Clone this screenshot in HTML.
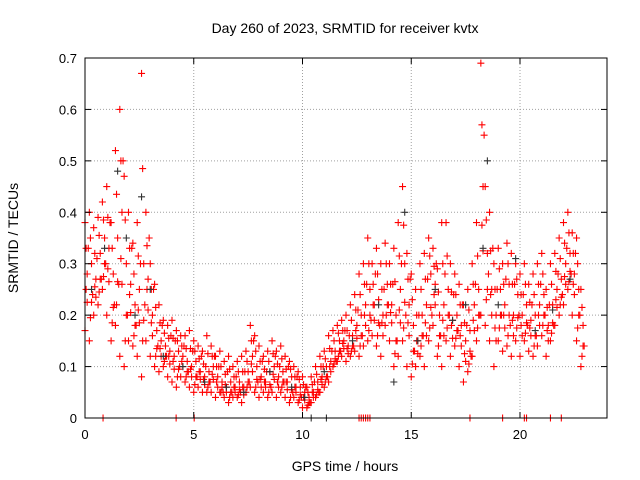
<!DOCTYPE html>
<html><head><meta charset="utf-8"><style>
body{margin:0;background:#fff}
svg{display:block;font-family:"Liberation Sans",sans-serif}
</style></head><body>
<svg id="chart" width="640" height="480">
<text x="345" y="33" font-size="14" text-anchor="middle">Day 260 of 2023, SRMTID for receiver kvtx</text>
<text x="345" y="471" font-size="14" text-anchor="middle">GPS time / hours</text>
<text x="18" y="238" font-size="14" text-anchor="middle" transform="rotate(-90 18 238)">SRMTID / TECUs</text>
<g id="grid"></g><g id="marks"></g><g id="axes"></g>
</svg>
<script>
const times=[0.0,0.2,0.4,0.6,0.8,1.0,1.2,1.4,1.6,1.8,2.0,2.2,2.4,2.6,2.8,3.0,3.2,3.4,3.6,3.8,4.0,4.2,4.4,4.6,4.8,5.0,5.2,5.4,5.6,5.8,6.0,6.2,6.4,6.6,6.8,7.0,7.2,7.4,7.6,7.8,8.0,8.2,8.4,8.6,8.8,9.0,9.2,9.4,9.6,9.8,10.0,10.2,10.4,10.6,10.8,11.0,11.2,11.4,11.6,11.8,12.0,12.2,12.4,12.6,12.8,13.0,13.2,13.4,13.6,13.8,14.0,14.2,14.4,14.6,14.8,15.0,15.2,15.4,15.6,15.8,16.0,16.2,16.4,16.6,16.8,17.0,17.2,17.4,17.6,17.8,18.0,18.2,18.4,18.6,18.8,19.0,19.2,19.4,19.6,19.8,20.0,20.2,20.4,20.6,20.8,21.0,21.2,21.4,21.6,21.8,22.0,22.2,22.4,22.6,22.8];
const lowVals=[.17,.15,.20,.22,.25,.20,.15,.18,.12,.10,.15,.14,.12,.08,.15,.12,.10,.09,.10,.08,.07,.06,.08,.07,.06,.05,.06,.05,.05,.05,.04,.05,.04,.03,.04,.04,.03,.05,.06,.05,.04,.05,.04,.05,.04,.05,.04,.03,.04,.03,.02,.02,.03,.04,.05,.06,.07,.10,.11,.12,.11,.12,.13,.12,.14,.15,.16,.14,.12,.18,.15,.10,.12,.15,.10,.08,.10,.12,.10,.15,.18,.12,.10,.15,.12,.14,.10,.07,.09,.12,.15,.20,.18,.15,.10,.15,.13,.14,.12,.15,.12,.15,.13,.12,.14,.16,.12,.15,.18,.20,.22,.25,.20,.15,.10];
const midVals=[.28,.30,.27,.32,.35,.33,.28,.35,.40,.30,.26,.22,.25,.30,.27,.20,.17,.15,.14,.13,.12,.13,.12,.11,.10,.11,.09,.08,.09,.10,.08,.07,.06,.07,.06,.07,.06,.09,.12,.10,.08,.07,.09,.10,.08,.09,.07,.08,.06,.06,.05,.04,.05,.07,.08,.10,.11,.13,.15,.15,.14,.16,.18,.20,.22,.25,.22,.23,.20,.26,.22,.20,.25,.30,.22,.18,.15,.20,.22,.28,.26,.20,.22,.25,.19,.20,.18,.15,.17,.22,.25,.45,.32,.25,.20,.25,.22,.26,.20,.24,.20,.22,.19,.20,.22,.24,.18,.22,.25,.27,.30,.32,.28,.25,.18];
const highVals=[.38,.40,.37,.39,.42,.45,.38,.52,.60,.47,.40,.34,.38,.67,.40,.30,.26,.22,.19,.18,.19,.17,.16,.16,.17,.15,.14,.13,.16,.14,.12,.13,.11,.12,.10,.11,.12,.13,.18,.16,.14,.12,.13,.15,.13,.14,.12,.11,.10,.09,.08,.06,.08,.10,.12,.13,.16,.17,.18,.19,.20,.22,.24,.28,.30,.35,.30,.33,.30,.34,.30,.33,.38,.45,.32,.28,.25,.30,.32,.35,.33,.29,.38,.38,.30,.28,.26,.22,.25,.30,.38,.69,.45,.40,.30,.33,.30,.34,.32,.30,.28,.30,.26,.28,.30,.32,.25,.30,.32,.35,.38,.40,.36,.35,.25];
const extraVals=[.33,.24,.31,.27,.30,.38,.22,.26,.50,.20,.33,.18,.30,.22,.35,.25,.14,.18,.12,.16,.15,.10,.14,.09,.13,.08,.12,.10,.07,.12,.10,.05,.09,.05,.08,.05,.09,.07,.15,.07,.11,.09,.06,.12,.10,.07,.10,.05,.08,.04,.06,.03,.07,.05,.10,.08,.13,.11,.13,.17,.16,.14,.21,.16,.26,.19,.28,.18,.25,.22,.26,.15,.30,.20,.27,.13,.20,.16,.27,.20,.30,.16,.28,.20,.24,.17,.22,.18,.12,.26,.20,.55,.28,.33,.25,.20,.27,.18,.26,.20,.24,.18,.22,.16,.26,.20,.22,.18,.28,.24,.33,.28,.32,.20,.14];
const blackTimes=[0.3,0.9,1.5,1.9,2.3,2.6,3.0,3.6,4.5,5.5,6.5,7.3,8.5,9.5,10.1,11.0,12.3,13.5,14.2,14.7,15.3,16.1,16.9,17.5,18.3,18.5,19.0,19.8,20.7,21.5,22.3];
const blackVals=[.25,.33,.48,.35,.20,.43,.25,.12,.10,.07,.06,.05,.09,.06,.04,.09,.15,.22,.07,.40,.15,.25,.19,.22,.33,.50,.22,.31,.17,.21,.27];
const zeroRed=[0.83,4.19,5.02,12.6,12.7,12.8,12.9,13.0,13.1,17.7,19.2,20.2,20.3,21.4,21.9];
const zeroBlack=[10.4,11.1];
const xTicks=[0,5,10,15,20];
const yTicks=[0,0.1,0.2,0.3,0.4,0.5,0.6,0.7];
const NS="http://www.w3.org/2000/svg";
const L=85,R=607,T=58,B=418;
function xs(v){return L+v/24*(R-L);}
function ys(v){return B-v/0.7*(B-T);}
function mk(tag,attrs,parent){const e=document.createElementNS(NS,tag);for(const k in attrs)e.setAttribute(k,attrs[k]);parent.appendChild(e);return e;}
const grid=document.getElementById('grid'),axes=document.getElementById('axes'),marks=document.getElementById('marks');
xTicks.forEach(t=>{const x=xs(t);
 if(t>0){const g=mk('line',{x1:x,y1:T,x2:x,y2:B,stroke:'#a0a0a0','stroke-dasharray':'1,2'},grid);
 
 }
 mk('line',{x1:x,y1:B,x2:x,y2:B-6,stroke:'#000'},axes);mk('line',{x1:x,y1:T,x2:x,y2:T+6,stroke:'#000'},axes);
 const tx=mk('text',{x:x,y:B+21,'font-size':13,'text-anchor':'middle'},axes);tx.textContent=t;
 
 });
yTicks.forEach(t=>{const y=ys(t);
 if(t>0&&t<0.7){const g=mk('line',{x1:L,y1:y,x2:R,y2:y,stroke:'#a0a0a0','stroke-dasharray':'1,2'},grid);
 
 }
 mk('line',{x1:L,y1:y,x2:L+6,y2:y,stroke:'#000'},axes);mk('line',{x1:R,y1:y,x2:R-6,y2:y,stroke:'#000'},axes);
 const tx=mk('text',{x:L-8,y:y+5,'font-size':13,'text-anchor':'end'},axes);tx.textContent=t===0?'0':t.toFixed(1);
 
 });
const frame=mk('rect',{x:L,y:T,width:R-L,height:B-T,fill:'none',stroke:'#000'},axes);


function plus(t,v,color,name){const x=xs(t),y=ys(v);
 const p=mk('path',{d:`M${x-3.5},${y}h7M${x},${y-3.5}v7`,stroke:color,'stroke-width':1.1,fill:'none'},marks);
 
 }
times.forEach((t,i)=>{plus(t,lowVals[i],'#ff0000','srmtid-point');plus(t+0.1,midVals[i],'#ff0000','srmtid-point');plus(t,highVals[i],'#ff0000','srmtid-point');
 plus(t+0.15,extraVals[i],'#ff0000','srmtid-point');
 plus(t+0.1,(lowVals[i]+midVals[i])/2,'#ff0000','srmtid-point');plus(t+0.05,(midVals[i]+highVals[i])/2,'#ff0000','srmtid-point');
 plus(t+0.05,(lowVals[i]+extraVals[i])/2,'#ff0000','srmtid-point');});
blackTimes.forEach((t,i)=>plus(t,blackVals[i],'#333333','srmtid-point-black'));
zeroRed.forEach(t=>plus(t,0,'#ff0000','zero-point'));
zeroBlack.forEach(t=>plus(t,0,'#333333','zero-point-black'));
</script>
</body></html>
